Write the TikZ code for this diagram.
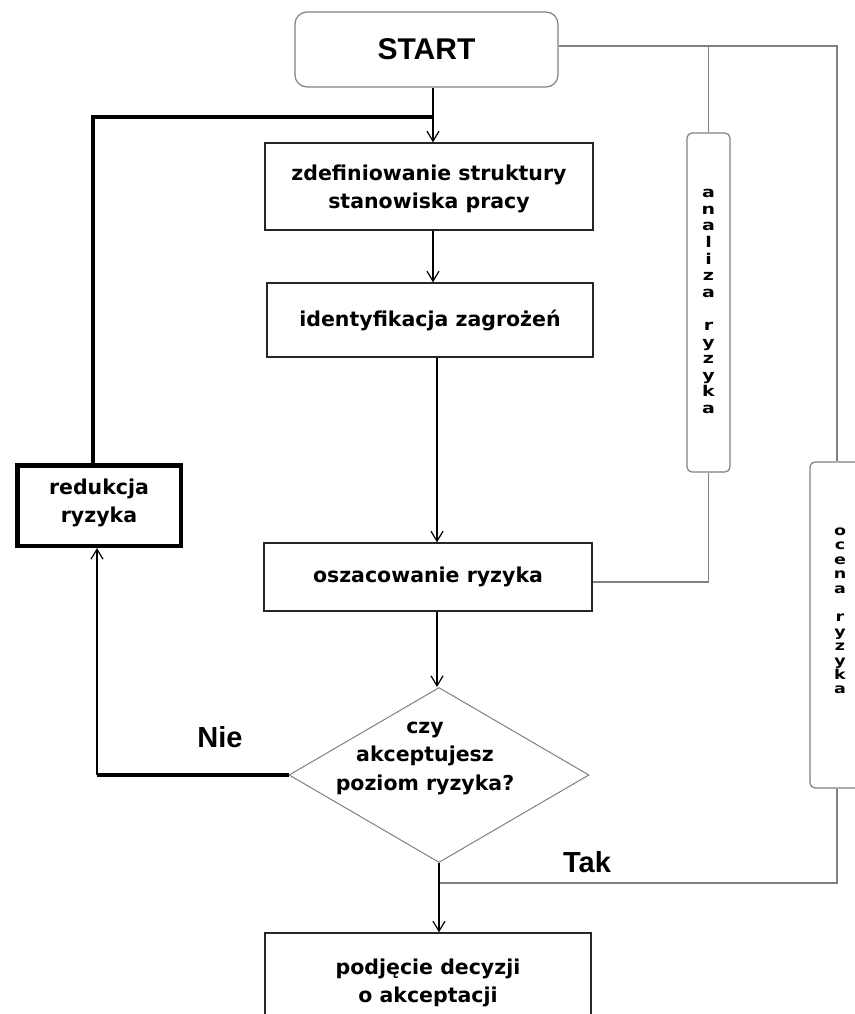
\documentclass[tikz,border=0pt]{standalone}
\usepackage{fontspec}
\setmainfont{DejaVu Sans}
\newfontfamily\arialf{Liberation Sans}
\usetikzlibrary{shapes.geometric,arrows.meta,calc}
\newcommand\vlet[1]{\scalebox{1.0}[0.78]{#1}}
\begin{document}
\begin{tikzpicture}[x=1pt,y=-1pt,
  box/.style={draw=black!85, line width=1.3pt, inner sep=0pt},
  gbox/.style={draw=black!50, line width=1.2pt, rounded corners=5pt, inner sep=0pt},
  txt/.style={font=\fontsize{20.5}{28.5}\selectfont\bfseries, align=center, inner sep=0pt},
  vtxt/.style={font=\fontsize{19}{16.6}\selectfont\bfseries, align=center, inner sep=0pt},
  vtxtb/.style={font=\fontsize{17.5}{14.4}\selectfont\bfseries, align=center, inner sep=0pt},
  arr/.style={-{Straight Barb[length=10pt,width=12pt]}, line width=1.2pt},
  gline/.style={draw=black!50, line width=1.2pt},
  heavy/.style={line width=4.5pt},
  lbl/.style={font=\arialf\fontsize{29}{30}\selectfont\bfseries, inner sep=0pt}
]
\useasboundingbox (0,0) rectangle (854,1014);
\fill[white] (0,0) rectangle (854,1014);

% nodes
\node[gbox, rounded corners=12pt, minimum width=263pt, minimum height=75pt,
      font=\arialf\fontsize{30}{32}\selectfont\bfseries] (start) at (426.5,49.5) {START};
\node[box, minimum width=328pt, minimum height=87pt] (zdef) at (429,186.5) {};
\node[txt] (zdeft) at (429,189) {zdefiniowanie struktury\\stanowiska pracy};
\node[box, minimum width=326pt, minimum height=74pt] (ident) at (430,320) {};
\node[txt] (identt) at (430,320) {identyfikacja zagrożeń};
\node[box, minimum width=328pt, minimum height=68pt] (oszac) at (428,577) {};
\node[txt] (oszact) at (428,577) {oszacowanie ryzyka};
\node[draw=black!50, line width=1pt, shape=diamond, inner sep=0pt,
      minimum width=300pt, minimum height=175pt] (dec) at (439,775) {};
\node[txt] (dect) at (425,758) {czy\\akceptujesz\\poziom ryzyka?};
\node[box, minimum width=326pt, minimum height=110pt] (podj) at (428,988) {};
\node[txt] (podjt) at (428,983) {podjęcie decyzji\\o akceptacji};
\node[draw=black, line width=4.5pt, inner sep=0pt, minimum width=163.5pt,
      minimum height=80.5pt] (red) at (99,505.5) {};
\node[txt] (redt) at (99,503) {redukcja\\ryzyka};
\node[gbox, minimum width=43pt, minimum height=339pt] (analiza) at (708.5,302.5) {};
\node[vtxt] (analizat) at (708.5,301.5) {\vlet{a}\\\vlet{n}\\\vlet{a}\\\vlet{l}\\\vlet{i}\\\vlet{z}\\\vlet{a}\\\mbox{}\\\vlet{r}\\\vlet{y}\\\vlet{z}\\\vlet{y}\\\vlet{k}\\\vlet{a}};
\node[gbox, minimum width=60pt, minimum height=326pt] (ocena) at (840,625) {};
\node[vtxtb] (ocenat) at (840,611) {\vlet{o}\\\vlet{c}\\\vlet{e}\\\vlet{n}\\\vlet{a}\\\mbox{}\\\vlet{r}\\\vlet{y}\\\vlet{z}\\\vlet{y}\\\vlet{k}\\\vlet{a}};
\node[lbl] (nie) at (220,737) {Nie};
\node[lbl] (tak) at (587,862) {Tak};

% helper coordinates
\coordinate (loopin) at (433,117);
\coordinate (flow) at (437,0);
\coordinate (rtop) at (837,46);
\coordinate (niecorner) at (97,775);
\coordinate (takjoin) at (440,883);

% main flow
\draw[arr] (start.south -| loopin) -- (zdef.north -| loopin);
\draw[arr] (zdef.south -| loopin) -- (ident.north -| loopin);
\draw[arr] (ident.south -| flow) -- (oszac.north -| flow);
\draw[arr] (oszac.south -| flow) -- (dec.north -| flow);
\draw[arr] (dec.south) -- (podj.north -| dec.south);

% loop back
\draw[heavy] (dec.west) -- (niecorner);
\draw[arr] (niecorner) -- (red.south -| niecorner);
\draw[heavy] ([xshift=-6pt]red.north) |- (loopin);

% right side analysis lines
\draw[gline] (start.east |- rtop) -- (rtop) -- (rtop |- ocena.north);
\draw[gline] (analiza.north |- rtop) -- (analiza.north);
\draw[gline] (analiza.south) |- ([yshift=-5pt]oszac.east);
\draw[gline] (rtop |- ocena.south) |- (takjoin);
\end{tikzpicture}
\end{document}
